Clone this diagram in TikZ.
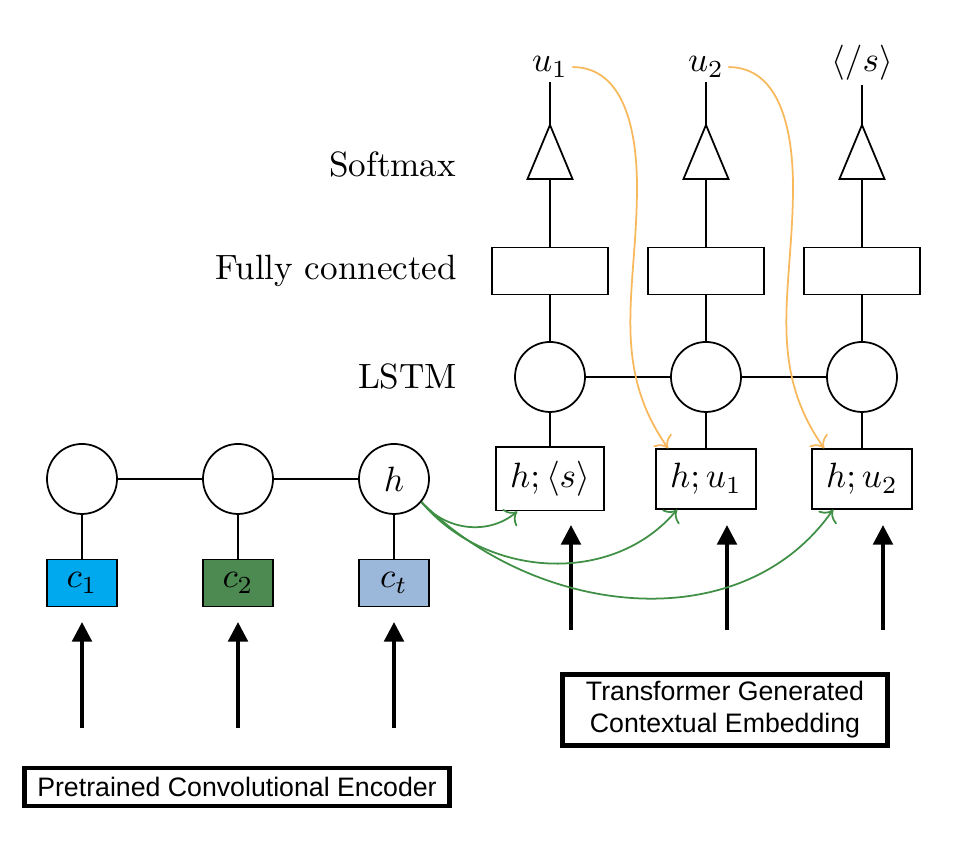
\documentclass[tikz,border=0pt]{standalone}
\usepackage{fontspec}
\setsansfont{Liberation Sans}
\usetikzlibrary{arrows.meta, positioning, calc}
\definecolor{cblue}{HTML}{00A9EE}
\definecolor{cgreen}{HTML}{4C8A52}
\definecolor{csteel}{HTML}{9BB7D9}
\definecolor{corange}{HTML}{F7B95C}
\definecolor{clink}{HTML}{3F8F45}
\tikzset{
  every picture/.style={line width=0.5pt},
  unit/.style={circle, draw, fill=white, minimum size=0.70cm, inner sep=0pt},
  vec/.style={draw=black, fill=#1, minimum width=0.70cm, minimum height=0.47cm, inner sep=0pt},
  layer/.style={draw, minimum width=1.16cm, minimum height=0.47cm, inner sep=0pt},
  inbox/.style={draw, inner sep=4pt},
  tag/.style={anchor=base east, inner sep=0pt},
  word/.style={anchor=base, inner sep=1pt},
  feed/.style={-{Triangle[width=5.5pt, length=5.6pt]}, line width=1.2pt},
  caption/.style={draw, line width=1.4pt, font=\sffamily\fontsize{7.6}{9.1}\selectfont, align=center, inner sep=0pt},
  hlink/.style={-{To[length=3pt]}, draw=clink, line width=0.5pt},
  ulink/.style={-{To[length=3pt]}, draw=corange, line width=0.5pt},
}

\begin{document}
\begin{tikzpicture}
  \useasboundingbox (0,0) rectangle (9.72,8.47);
  % encoder side
  \foreach \i/\x/\col/\lab/\txt in {1/0.82/cblue/c_1/{}, 2/2.38/cgreen/c_2/{}, 3/3.94/csteel/c_t/h} {
    \node[unit] (enc\i) at (\x,3.68) {$\txt$};
    \node[vec=\col] (cin\i) at (\x,2.64) {$\lab$};
    \coordinate (p\i) at (\x,1.19);
    \coordinate (q\i) at (\x,2.25);
    \draw (enc\i) -- (cin\i);
    \draw[feed] (p\i) -- (q\i);
  }
  \draw (enc1) -- (enc2) -- (enc3);
  \node[caption, minimum width=4.25cm, minimum height=0.38cm] (cnn) at (2.37,0.60) {Pretrained Convolutional Encoder};
  % decoder side
  \foreach \i/\x/\prev/\word in {1/5.50/{\langle s\rangle}/u_1, 2/7.06/u_1/u_2, 3/8.62/u_2/{\langle /s\rangle}} {
    \node[inbox] (in\i) at (\x,3.68) {$h;\prev$};
    \node[unit] (dec\i) at (\x,4.70) {};
    \node[layer] (fc\i) at (\x,5.76) {};
    \coordinate (sm\i) at (\x,6.68);
    \coordinate (top\i) at (\x,7.22);
    \node[word] (out\i) at (\x,7.75) {$\word$};
    \draw ($(sm\i)+(-0.225,0)$) -- ($(sm\i)+(0.225,0)$) -- (top\i) -- cycle;
    \draw (in\i) -- (dec\i) (dec\i) -- (fc\i) (fc\i) -- (sm\i) (top\i) -- (out\i);
    \coordinate (r\i) at (\x+0.21,2.17);
    \coordinate (s\i) at (\x+0.21,3.22);
    \draw[feed] (r\i) -- (s\i);
  }
  \draw (dec1) -- (dec2) -- (dec3);
  \node[tag] (lsm) at (4.57,6.70) {Softmax};
  \node[tag] (lfc) at (4.58,5.67) {Fully connected};
  \node[tag] (llstm) at (4.58,4.58) {LSTM};
  \node[caption, minimum width=3.25cm, minimum height=0.71cm] (ctx) at (7.25,1.37) {Transformer Generated\\Contextual Embedding};
  % h fed into every step
  \draw[hlink] (enc3.-40) to[out=-50, in=-140] ($(in1.south west)+(0.22,0)$);
  \draw[hlink] (enc3.-40) to[out=-50, in=-130] ($(in2.south west)+(0.22,0)$);
  \draw[hlink] (enc3.-40) to[out=-45, in=-125] ($(in3.south west)+(0.22,0)$);
  % previous word fed back
  \coordinate (bend1) at (6.37,6.60);
  \coordinate (bend2) at (7.93,6.60);
  \draw[ulink] (out1.east) to[out=0, in=90] (bend1) to[out=-90, in=125] ($(in2.north west)+(0.13,0)$);
  \draw[ulink] (out2.east) to[out=0, in=90] (bend2) to[out=-90, in=125] ($(in3.north west)+(0.13,0)$);
\end{tikzpicture}
\end{document}
